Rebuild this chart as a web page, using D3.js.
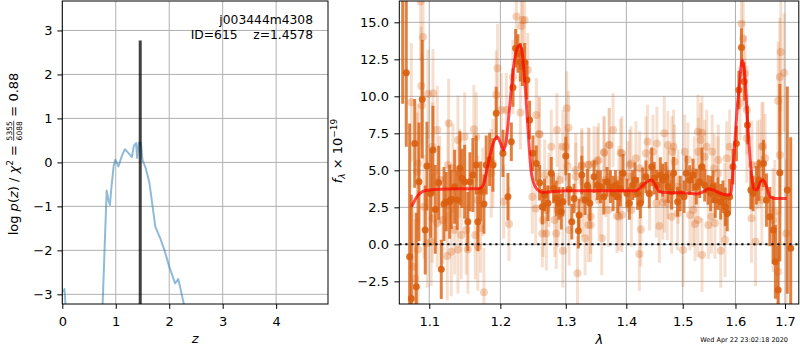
<!DOCTYPE html>
<html>
<head>
<meta charset="utf-8">
<script src="https://cdn.jsdelivr.net/npm/d3@7"></script>
<style>
  body { margin: 0; background: #fff; }
  text { font-family: "DejaVu Sans", sans-serif; white-space: pre; }
</style>
</head>
<body>
<svg id="fig" width="800" height="350"></svg>
<script>
// ---- p(z) panel data ----
const pzZ = [0.02, 0.04, 0.08, 0.2, 0.7, 0.755, 0.83, 0.86, 0.89, 0.92, 0.96, 0.99, 1.05, 1.11, 1.17, 1.24, 1.30,
  1.34, 1.38, 1.40, 1.43, 1.47, 1.50, 1.56, 1.63, 1.74, 1.83, 1.92, 2.00, 2.11, 2.17, 2.27, 2.35];
const pzLogP = [-2.95, -2.88, -3.6, -4.5, -4.5, -3.2, -0.64, -0.85, -0.97, -0.55, -0.09, 0.06, -0.09, 0.13, 0.30, 0.21, 0.12,
  0.38, 0.44, 0.10, 0.44, 0.45, 0.06, -0.13, -0.47, -1.46, -1.72, -2.03, -2.37, -2.75, -2.65, -3.2, -4.0];
const zBest = 1.4578;
const zBestTop = 2.77;
const zTicks = [0, 1, 2, 3, 4];
const lpTicks = [-3, -2, -1, 0, 1, 2, 3];

// ---- spectrum panel data (wavelength in micron, flux in 1e-19) ----
const darkWave = [1.0648, 1.0695, 1.0739, 1.0761, 1.0806, 1.0827, 1.0862, 1.0906, 1.0946, 1.0969,
  1.1019, 1.1050, 1.1081, 1.1127, 1.1163, 1.1200, 1.1231, 1.1278, 1.1300, 1.1347,
  1.1383, 1.1420, 1.1449, 1.1487, 1.1532, 1.1561, 1.1603, 1.1651, 1.1674, 1.1713,
  1.1761, 1.1794, 1.1843, 1.1891, 1.1939, 1.2038, 1.2112, 1.2162, 1.2186, 1.2226,
  1.2261, 1.2297, 1.2327, 1.2362, 1.2396, 1.2437, 1.2488, 1.2540, 1.2590, 1.2632,
  1.2667, 1.2719, 1.2771, 1.2807, 1.2850, 1.2891, 1.2928, 1.2954, 1.3000, 1.3053,
  1.3096, 1.3132, 1.3202, 1.3213, 1.3257, 1.3311, 1.3348, 1.3388, 1.3458, 1.3513,
  1.3562, 1.3619, 1.3673, 1.3730, 1.3775, 1.3814, 1.3854, 1.3898, 1.3944, 1.4010,
  1.4052, 1.4108, 1.4148, 1.4195, 1.4241, 1.4281, 1.4340, 1.4399, 1.4441, 1.4487,
  1.4534, 1.4595, 1.4636, 1.4694, 1.4737, 1.4798, 1.4833, 1.4906, 1.4955, 1.5024,
  1.5066, 1.5129, 1.5190, 1.5251, 1.5315, 1.5358, 1.5409, 1.5471, 1.5522, 1.5566,
  1.5609, 1.5661, 1.5713, 1.5757, 1.5801, 1.5840, 1.5886, 1.5951, 1.6019, 1.6067,
  1.6118, 1.6171, 1.6237, 1.6304, 1.6349, 1.6416, 1.6464, 1.6557, 1.6618, 1.6688,
  1.6755, 1.6802, 1.6858, 1.6893, 1.7048, 1.7119];
const darkFlux = [17.5, 11.6, -0.84, -3.65, 6.82, -2.86, 4.23, 9.8, 0.97, 5.29,
  3.44, 6.37, 2.36, 4.16, -1.69, 2.72, 2.88, 2.88, 3.04, 3.89,
  2.99, 5.14, 4.46, 4.23, 1.53, 4.23, 4.68, 5.36, 1.53, 3.6,
  2.72, 5.36, 5.74, 5.36, 8.85, 6.15, 3.22, 6.93, 10.6, 13.24,
  12.9, 12.3, 12.0, 12.3, 11.1, 8.4, 6.15, 5.47, 4.16, 2.54,
  3.33, 2.77, 4.8, 3.78, 3.1, 2.77, 2.2, 2.88, 5.97, 3.72,
  1.53, 3.1, 0.92, 1.98, 4.68, 2.99, 4.0, 2.77, 4.57, 4.0,
  3.89, 3.22, 4.23, 3.89, 3.44, 4.0, 3.22, 3.78, 4.8, 3.44,
  2.77, 4.0, 4.34, 3.44, 2.77, 4.0, 4.57, 3.44, 5.24, 4.46,
  4.0, 4.68, 4.34, 4.57, 3.89, 3.55, 4.8, 2.88, 3.44, 3.22,
  4.8, 4.34, 4.68, 3.89, 4.23, 5.24, 4.0, 3.67, 3.44, 3.89,
  2.99, 3.44, 2.88, 3.22, 2.54, 2.09, 3.22, 5.24, 6.82, 10.43,
  13.3, 11.0, 8.06, 3.67, 3.44, 4.0, 4.34, 5.47, 2.99, 1.87,
  0.97, -1.17, -3.09, 4.84, 3.67, -0.27];
const darkErr = [8, 5, 9, 7, 3, 5, 4, 4, 3, 3,
  3, 3, 3, 2.5, 2, 2.5, 2, 2.5, 2, 2.5,
  2, 2.5, 2, 2.5, 2, 2, 2.5, 2, 2, 2,
  2, 2, 1.8, 1.8, 1.8, 1.6, 1.6, 1.3, 1.3, 1.3,
  1.3, 1.3, 1.3, 1.3, 1.3, 1.3, 1.2, 1.2, 1.2, 1.2,
  1.1, 1.2, 1.1, 1.0, 1.2, 1.1, 1.2, 1.0, 1.3, 1.1,
  1.2, 1.0, 1.2, 1.1, 1.3, 1.0, 1.1, 1.2, 1.1, 1.0,
  1.1, 1.2, 1.0, 1.1, 1.2, 1.0, 1.1, 1.2, 1.3, 1.0,
  1.1, 1.0, 1.2, 1.1, 1.0, 1.2, 1.1, 1.0, 1.3, 1.1,
  1.0, 1.2, 1.1, 1.0, 1.1, 1.2, 1.1, 1.0, 1.2, 1.1,
  1.2, 1.0, 1.1, 1.2, 1.1, 1.3, 1.1, 1.0, 1.2, 1.1,
  1.2, 1.1, 1.2, 1.1, 1.3, 1.2, 1.2, 1.2, 1.2, 1.3,
  1.3, 1.3, 1.3, 1.3, 1.2, 1.3, 1.4, 1.6, 1.8, 2.0,
  2.3, 2.5, 3, 6, 7, 7.5];

const lightWave = [1.0885, 1.0916, 1.0893, 1.0761, 1.0902, 1.1050, 1.0982, 1.1108, 1.1264, 1.1393,
  1.1487, 1.1617, 1.1651, 1.1041, 1.1255, 1.1324, 1.0849, 1.0840, 1.1141, 1.1417,
  1.0783, 1.0813, 1.0849, 1.0973, 1.1026, 1.1245, 1.1300, 1.1393, 1.1532, 1.1674,
  1.1761, 1.1108, 1.1041, 1.1185, 1.1439, 1.1347, 1.1509, 1.1713, 1.1636, 1.0929,
  1.1674, 1.1746, 1.1960, 1.1939, 1.1891, 1.1866, 1.2237, 1.2327, 1.2362, 1.2312,
  1.2411, 1.2186, 1.2297, 1.2088, 1.2015, 1.2540, 1.2580, 1.2860, 1.3016, 1.3042,
  1.2771, 1.2954, 1.3026, 1.3160, 1.3257, 1.3376, 1.3458, 1.2048, 1.2127, 1.2478,
  1.2530, 1.2694, 1.2643, 1.2823, 1.2954, 1.3187, 1.3311, 1.3364, 1.3403, 1.3268,
  1.2873, 1.2735, 1.3775, 1.3713, 1.3624, 1.3532, 1.3922, 1.4079, 1.4165, 1.4369,
  1.4340, 1.4534, 1.4665, 1.4833, 1.5036, 1.5096, 1.5282, 1.3585, 1.4224, 1.4250,
  1.4577, 1.4798, 1.5006, 1.3840, 1.3922, 1.4636, 1.4719, 1.4906, 1.3694, 1.5190,
  1.6118, 1.6153, 1.6912, 1.6893, 1.6980, 1.6858, 1.6187, 1.6087, 1.5358, 1.5551,
  1.5334, 1.5886, 1.6550, 1.6436, 1.6484, 1.5661, 1.5409, 1.5282, 1.5358, 1.5715,
  1.6317, 1.6397, 1.6755, 1.6789, 1.5792, 1.5535, 1.7027, 1.6858,
  1.2591, 1.3000, 1.3257, 1.3364, 1.3512, 1.3623, 1.3707, 1.3904, 1.4057, 1.4463,
  1.4730, 1.2668, 1.2902, 1.3160, 1.3268, 1.3651, 1.3875, 1.4027, 1.4230, 1.2694,
  1.3053, 1.3403, 1.3875, 1.3540, 1.4086, 1.2632, 1.2850, 1.4405, 1.4523, 1.4803,
  1.5447, 1.5288, 1.5667, 1.5829, 1.5591, 1.5214, 1.4852, 1.4671, 1.5134, 1.5227,
  1.5477, 1.5604, 1.5796, 1.6225, 1.6225, 1.6525, 1.6591, 1.6324, 1.6896, 1.4730,
  1.4915, 1.6525];
const lightFlux = [16.4, 14.0, 10.7, 9.6, 9.4, 10.2, 10.15, 7.72, 8.18, 7.05,
  7.27, 7.77, 7.27, 6.6, 5.36, 5.14, 5.47, 4.9, 4.34, 4.8,
  -1.51, -2.3, -0.34, 0.07, 0.18, -0.79, -0.5, -0.34, -0.34, -0.16,
  -3.24, 1.42, 1.76, 1.64, 0.63, 0.97, 0.97, 1.08, 0.63, 2.54,
  2.99, 3.55, 11.9, 10.1, 5.47, 4.8, 15.4, 15.15, 15.15, 14.75,
  11.78, 11.3, 8.9, 9.07, 9.07, 8.74, 7.45, 7.72, 9.19, 7.88,
  6.6, 6.6, 5.29, 5.02, 5.36, 5.36, 5.47, 2.88, 1.37, 3.22,
  2.43, 0.74, 1.64, 1.64, -0.43, -1.96, 0.41, 1.3, 1.87, 2.99,
  2.32, 3.67, 7.72, 6.71, 6.19, 5.7, 6.15, 5.47, 5.81, 6.93,
  6.15, 6.82, 7.5, 6.6, 6.26, 5.74, 7.61, 0.41, -0.66, 1.01,
  1.24, 1.87, -0.38, 1.91, 1.98, 2.81, 2.77, 2.09, 2.32, 2.32,
  14.9, 13.9, 13.0, 11.3, 11.6, 9.7, 11.55, 9.53, 7.54, 6.26,
  7.05, 6.6, 6.64, 5.36, 5.43, 4.8, 5.92, 1.64, -0.72, -0.43,
  1.76, 0.18, 1.64, 2.2, 2.99, 1.87, 0.74, -1.85,
  7.43, 6.6, 5.29, 5.4, 5.63, 6.22, 6.71, 6.19, 5.36, 6.26,
  6.71, 4.68, 4.34, 4.57, 4.23, 4.34, 4.34, 4.57, 5.14, 2.32,
  0.97, 1.3, 1.87, 2.99, 2.32, 0.74, 0.74, 3.44, 2.77, 6.26,
  6.6, 6.26, 5.7, 5.81, 5.14, 4.9, 5.58, 3.1, 1.98, 1.37,
  1.3, 1.42, 0.29, 9.07, 7.16, 6.6, 5.81, 5.36, 6.03, 4.12,
  3.89, 2.99];
const lightErr = [4, 4, 4, 4, 3.5, 3, 3, 3, 3, 3,
  3, 3, 3, 3, 3, 3, 4, 4, 3, 3,
  4, 4, 4, 3, 3, 3, 3, 3, 3, 3,
  3, 3, 3, 3, 3, 3, 3, 3, 3, 3.5,
  3, 3, 3, 3, 3, 3, 2.5, 2.5, 2.5, 2.5,
  2.5, 2.5, 2.5, 2.5, 2.5, 2.5, 2.5, 2.5, 2.5, 2.5,
  2.5, 2.5, 2.5, 2.5, 2.5, 2.5, 2.5, 2.5, 2.5, 2.5,
  2.5, 2.5, 2.5, 2.5, 2.5, 2.5, 2.5, 2.5, 2.5, 2.5,
  2.5, 2.5, 2.5, 2.5, 2.5, 2.5, 2.5, 2.5, 2.5, 2.5,
  2.5, 2.5, 2.5, 2.5, 2.5, 2.5, 2.5, 2.5, 2.5, 2.5,
  2.5, 2.5, 2.5, 2.5, 2.5, 2.5, 2.5, 2.5, 2.5, 2.5,
  2.5, 2.5, 4, 4, 4, 4, 2.5, 2.5, 2.5, 2.5,
  2.5, 2.5, 3, 3, 3, 2.5, 2.5, 2.5, 2.5, 2.5,
  3, 3, 3.5, 3.5, 2.5, 2.5, 5, 4,
  2.5, 2.3, 2.4, 2.5, 2.3, 2.4, 2.5, 2.3, 2.4, 2.5,
  2.3, 2.4, 2.5, 2.3, 2.4, 2.5, 2.3, 2.4, 2.5, 2.3,
  2.4, 2.5, 2.3, 2.4, 2.5, 2.3, 2.4, 2.5, 2.3, 2.4,
  2.5, 2.3, 2.4, 2.5, 2.3, 2.4, 2.5, 2.3, 2.4, 2.5,
  2.3, 2.4, 2.5, 3, 3, 3, 3, 3, 4, 2.4,
  2.5, 3];

const modelWave = [1.0766, 1.082, 1.094, 1.1145, 1.170, 1.175, 1.1823, 1.1895, 1.1953, 1.2004,
  1.2048, 1.2087, 1.2137, 1.2196, 1.2260, 1.2296, 1.2326, 1.2377, 1.2427, 1.2464,
  1.2540, 1.2643, 1.300, 1.343, 1.417, 1.426, 1.436, 1.4435, 1.449, 1.458,
  1.476, 1.501, 1.526, 1.538, 1.548, 1.557, 1.570, 1.5862, 1.591, 1.596,
  1.6027, 1.608, 1.6136, 1.618, 1.6233, 1.6303, 1.636, 1.6423, 1.650, 1.6545,
  1.661, 1.669, 1.6795, 1.7035];
const modelFlux = [2.54, 3.1, 3.62, 3.72, 3.78, 4.0, 5.47, 6.82, 7.27, 6.82,
  6.37, 7.05, 9.3, 12.0, 13.35, 13.47, 12.9, 10.2, 6.82, 4.8,
  3.78, 3.51, 3.62, 3.62, 3.62, 3.9, 4.23, 4.34, 4.12, 3.55,
  3.49, 3.49, 3.4, 3.55, 3.74, 3.67, 3.45, 3.33, 3.45, 5.47,
  8.85, 10.88, 12.45, 11.55, 8.62, 5.24, 3.78, 3.67, 4.23, 4.34,
  4.0, 3.22, 3.1, 3.1];

const waveTicks = [1.1, 1.2, 1.3, 1.4, 1.5, 1.6, 1.7];
const fluxTicks = [-2.5, 0, 2.5, 5, 7.5, 10, 12.5, 15];

const ORANGE = "#d95f0e";
const GRID = "#b0b0b0";
const FS = 13;

const svg = d3.select("#fig");

// ============ left panel: p(z) ============
const LP = { x0: 62.3, x1: 328, y0: 1, y1: 304 };
const xZ = d3.scaleLinear().domain([0, 4.97]).range([LP.x0, LP.x1]);
const yP = d3.scaleLinear().domain([-3.22, 3.67]).range([LP.y1, LP.y0]);

svg.append("clipPath").attr("id", "clipL")
  .append("rect").attr("x", LP.x0).attr("y", LP.y0)
  .attr("width", LP.x1 - LP.x0).attr("height", LP.y1 - LP.y0);

const gL = svg.append("g");
// grid
gL.selectAll("line.gx").data(zTicks).enter().append("line")
  .attr("x1", d => xZ(d)).attr("x2", d => xZ(d)).attr("y1", LP.y0).attr("y2", LP.y1)
  .attr("stroke", GRID).attr("stroke-width", 1);
gL.selectAll("line.gy").data(lpTicks).enter().append("line")
  .attr("x1", LP.x0).attr("x2", LP.x1).attr("y1", d => yP(d)).attr("y2", d => yP(d))
  .attr("stroke", GRID).attr("stroke-width", 1);

const plotL = gL.append("g").attr("clip-path", "url(#clipL)");
const pzData = pzZ.map((z, i) => ({ z: z, p: pzLogP[i] }));
plotL.append("path").datum(pzData)
  .attr("d", d3.line().x(d => xZ(d.z)).y(d => yP(d.p)))
  .attr("fill", "none").attr("stroke", "#1f77b4").attr("stroke-opacity", 0.5)
  .attr("stroke-width", 2).attr("stroke-linejoin", "round");
plotL.append("line")
  .attr("x1", xZ(zBest)).attr("x2", xZ(zBest)).attr("y1", yP(-3.22)).attr("y2", yP(zBestTop))
  .attr("stroke", "#000").attr("stroke-opacity", 0.75).attr("stroke-width", 3);

// axes
const axL = gL.append("g").attr("transform", `translate(0,${LP.y1})`)
  .call(d3.axisBottom(xZ).tickValues(zTicks).tickFormat(d3.format("d")).tickSize(4.9).tickPadding(7.9));
const ayL = gL.append("g").attr("transform", `translate(${LP.x0},0)`)
  .call(d3.axisLeft(yP).tickValues(lpTicks).tickFormat(d3.format("d")).tickSize(4.9).tickPadding(5));
[axL, ayL].forEach(a => {
  a.select(".domain").remove();
  a.selectAll("text").attr("font-size", FS).attr("fill", "#000").attr("font-family", "DejaVu Sans");
  a.selectAll("line").attr("stroke", "#000");
});
gL.append("rect").attr("x", LP.x0).attr("y", LP.y0)
  .attr("width", LP.x1 - LP.x0).attr("height", LP.y1 - LP.y0)
  .attr("fill", "none").attr("stroke", "#000").attr("stroke-width", 1);

// annotation
gL.append("text").attr("x", 313).attr("y", 24).attr("text-anchor", "end")
  .attr("font-size", 12.3).text("j003444m4308");
gL.append("text").attr("x", 313).attr("y", 39).attr("text-anchor", "end")
  .attr("font-size", 12.3).text("ID=615    z=1.4578");

// x label
gL.append("text").attr("x", (LP.x0 + LP.x1) / 2).attr("y", 343).attr("text-anchor", "middle")
  .attr("font-size", FS).attr("font-style", "italic").text("z");

// y label with fraction
(function () {
  const g = gL.append("g").attr("transform", "translate(18,154) rotate(-90)");
  const inner = g.append("g");
  const t1 = inner.append("text").attr("font-size", FS);
  t1.append("tspan").text("log ");
  t1.append("tspan").attr("font-style", "italic").text("p");
  t1.append("tspan").text("(");
  t1.append("tspan").attr("font-style", "italic").text("z");
  t1.append("tspan").text(") / ");
  t1.append("tspan").attr("font-style", "italic").text("χ");
  t1.append("tspan").attr("font-size", 9).attr("dy", -5).text("2");
  t1.append("tspan").attr("dy", 5).text(" = ");
  const w1 = t1.node().getComputedTextLength();
  const num = inner.append("text").attr("font-size", 7.5).attr("text-anchor", "middle").attr("y", -6).text("5355");
  const wf = num.node().getComputedTextLength() + 1;
  num.attr("x", w1 + wf / 2);
  inner.append("text").attr("font-size", 7.5).attr("text-anchor", "middle")
    .attr("x", w1 + wf / 2).attr("y", 3.8).text("6088");
  inner.append("line").attr("x1", w1).attr("x2", w1 + wf).attr("y1", -4.3).attr("y2", -4.3)
    .attr("stroke", "#000").attr("stroke-width", 0.7);
  const t3 = inner.append("text").attr("font-size", FS).attr("x", w1 + wf).text(" = 0.88");
  const W = w1 + wf + t3.node().getComputedTextLength();
  inner.attr("transform", `translate(${-W / 2},0)`);
})();

// ============ right panel: spectrum ============
const RP = { x0: 399.3, x1: 799.3, y0: 1, y1: 304 };
const xW = d3.scaleLog().domain([1.0604, 1.730]).range([RP.x0, RP.x1]);
const yF = d3.scaleLinear().domain([-4.03, 16.44]).range([RP.y1, RP.y0]);

svg.append("clipPath").attr("id", "clipR")
  .append("rect").attr("x", RP.x0).attr("y", RP.y0)
  .attr("width", RP.x1 - RP.x0).attr("height", RP.y1 - RP.y0);

const gR = svg.append("g");
gR.selectAll("line.gx").data(waveTicks).enter().append("line")
  .attr("x1", d => xW(d)).attr("x2", d => xW(d)).attr("y1", RP.y0).attr("y2", RP.y1)
  .attr("stroke", GRID).attr("stroke-width", 1);
gR.selectAll("line.gy").data(fluxTicks).enter().append("line")
  .attr("x1", RP.x0).attr("x2", RP.x1).attr("y1", d => yF(d)).attr("y2", d => yF(d))
  .attr("stroke", GRID).attr("stroke-width", 1);

const plotR = gR.append("g").attr("clip-path", "url(#clipR)");

function drawPoints(waves, fluxes, errs, barOpacity, dotOpacity, r) {
  const pts = waves.map((w, i) => ({ w: w, f: fluxes[i], e: errs[i] }));
  const g = plotR.append("g");
  g.selectAll("line").data(pts).enter().append("line")
    .attr("x1", d => xW(d.w)).attr("x2", d => xW(d.w))
    .attr("y1", d => yF(d.f - d.e)).attr("y2", d => yF(d.f + d.e))
    .attr("stroke", ORANGE).attr("stroke-opacity", barOpacity).attr("stroke-width", 3);
  g.selectAll("circle").data(pts).enter().append("circle")
    .attr("cx", d => xW(d.w)).attr("cy", d => yF(d.f)).attr("r", r)
    .attr("fill", ORANGE).attr("fill-opacity", dotOpacity);
}
drawPoints(lightWave, lightFlux, lightErr, 0.2, 0.28, 4);
drawPoints(darkWave, darkFlux, darkErr, 0.78, 0.9, 3.5);

const modelData = modelWave.map((w, i) => ({ w: w, f: modelFlux[i] }));
plotR.append("path").datum(modelData)
  .attr("d", d3.line().curve(d3.curveMonotoneX).x(d => xW(d.w)).y(d => yF(d.f)))
  .attr("fill", "none").attr("stroke", "red").attr("stroke-opacity", 0.7)
  .attr("stroke-width", 3).attr("stroke-linejoin", "round");

plotR.append("line")
  .attr("x1", RP.x0).attr("x2", RP.x1).attr("y1", yF(0)).attr("y2", yF(0))
  .attr("stroke", "#000").attr("stroke-width", 2).attr("stroke-dasharray", "2.2,3.8");

const axR = gR.append("g").attr("transform", `translate(0,${RP.y1})`)
  .call(d3.axisBottom(xW).tickValues(waveTicks).tickFormat(d3.format(".1f")).tickSize(4.9).tickPadding(7.9));
const ayR = gR.append("g").attr("transform", `translate(${RP.x0},0)`)
  .call(d3.axisLeft(yF).tickValues(fluxTicks).tickFormat(d3.format(".1f")).tickSize(4.9).tickPadding(5.5));
[axR, ayR].forEach(a => {
  a.select(".domain").remove();
  a.selectAll("text").attr("font-size", FS).attr("fill", "#000").attr("font-family", "DejaVu Sans");
  a.selectAll("line").attr("stroke", "#000");
});
gR.append("rect").attr("x", RP.x0).attr("y", RP.y0)
  .attr("width", RP.x1 - RP.x0 - 0.5).attr("height", RP.y1 - RP.y0)
  .attr("fill", "none").attr("stroke", "#000").attr("stroke-width", 1);

gR.append("text").attr("x", (RP.x0 + RP.x1) / 2).attr("y", 344).attr("text-anchor", "middle")
  .attr("font-size", FS).attr("font-style", "italic").text("λ");

(function () {
  const t = gR.append("text").attr("transform", "translate(342,151) rotate(-90)")
    .attr("text-anchor", "middle").attr("font-size", FS);
  t.append("tspan").attr("font-style", "italic").text("f");
  t.append("tspan").attr("font-size", 9).attr("font-style", "italic").attr("dy", 3).text("λ");
  t.append("tspan").attr("dy", -3).text(" × 10");
  t.append("tspan").attr("font-size", 9).attr("dy", -5).text("−19");
})();

svg.append("text").attr("x", 788).attr("y", 342).attr("text-anchor", "end")
  .attr("font-size", 6.5).text("Wed Apr 22 23:02:18 2020");
</script>
</body>
</html>
